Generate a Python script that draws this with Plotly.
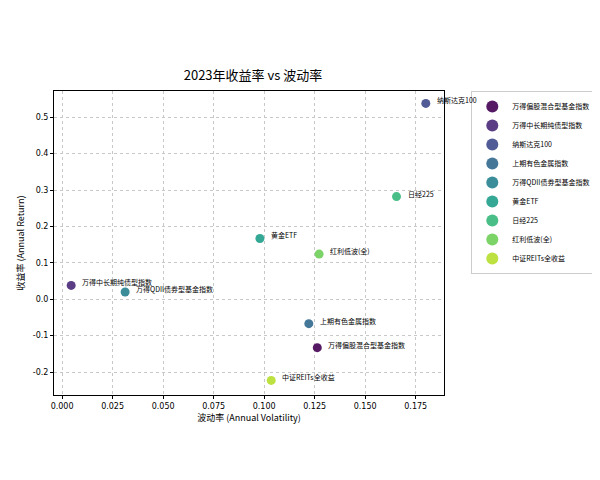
import plotly.graph_objects as go

names = ["万得偏股混合型基金指数", "万得中长期纯债型指数", "纳斯达克100", "上期有色金属指数",
         "万得QDII债券型基金指数", "黄金ETF", "日经225", "红利低波(全)", "中证REITs全收益"]
vol = [0.1263, 0.0045, 0.1800, 0.1221, 0.0312, 0.0979, 0.1655, 0.1272, 0.1035]
ret = [-0.133, 0.038, 0.538, -0.067, 0.020, 0.167, 0.282, 0.124, -0.223]
colors = ["#440154", "#482878", "#3e4989", "#31688e", "#26828e", "#1f9e89", "#35b779", "#6ece58", "#b5de2b"]
xticks = [0.0, 0.025, 0.05, 0.075, 0.1, 0.125, 0.15, 0.175]
yticks = [-0.2, -0.1, 0.0, 0.1, 0.2, 0.3, 0.4, 0.5]

F = "Noto Sans CJK SC, DejaVu Sans"
fig = go.Figure()
for n, x, y, c in zip(names, vol, ret, colors):
    fig.add_trace(go.Scatter(x=[x], y=[y], mode="markers", name=n,
                             marker=dict(size=9, color=c, opacity=0.9)))
    fig.add_annotation(x=x, y=y, text=n, showarrow=False, xanchor="left",
                       xshift=9, yshift=3, font=dict(size=7, family=F, color="black"))

ax = dict(showline=True, linecolor="black", linewidth=1, mirror=True,
          gridcolor="#c8c8c8", griddash="dot", gridwidth=0.8, zeroline=False, ticks="outside",
          ticklen=3, tickcolor="black", tickfont=dict(size=8, family="DejaVu Sans", color="black"))
fig.update_layout(
    width=600, height=480, paper_bgcolor="white", plot_bgcolor="white",
    margin=dict(l=43, r=153, t=83, b=93),
    title=dict(text="2023年收益率 vs 波动率", x=(43 + 202) / 600, xanchor="center",
               y=0.85, yanchor="bottom", font=dict(size=13, family=F, color="black")),
    showlegend=True,
    legend=dict(x=1.07, y=1.0, xanchor="left", yanchor="top",
                font=dict(size=7, family=F, color="black"),
                bordercolor="#cccccc", borderwidth=1, itemwidth=30, tracegroupgap=0,
                itemsizing="constant"),
    xaxis=dict(ax, range=[-0.004, 0.189], tickvals=xticks,
               ticktext=[f"{t:.3f}" for t in xticks],
               title=dict(text="波动率 (Annual Volatility)", font=dict(size=9, family=F, color="black"), standoff=4)),
    yaxis=dict(ax, range=[-0.263, 0.572], tickvals=yticks,
               ticktext=[f"{t:.1f}" for t in yticks],
               title=dict(text="收益率 (Annual Return)", font=dict(size=9, family=F, color="black"), standoff=6)),
)
fig.write_html("out.html")
